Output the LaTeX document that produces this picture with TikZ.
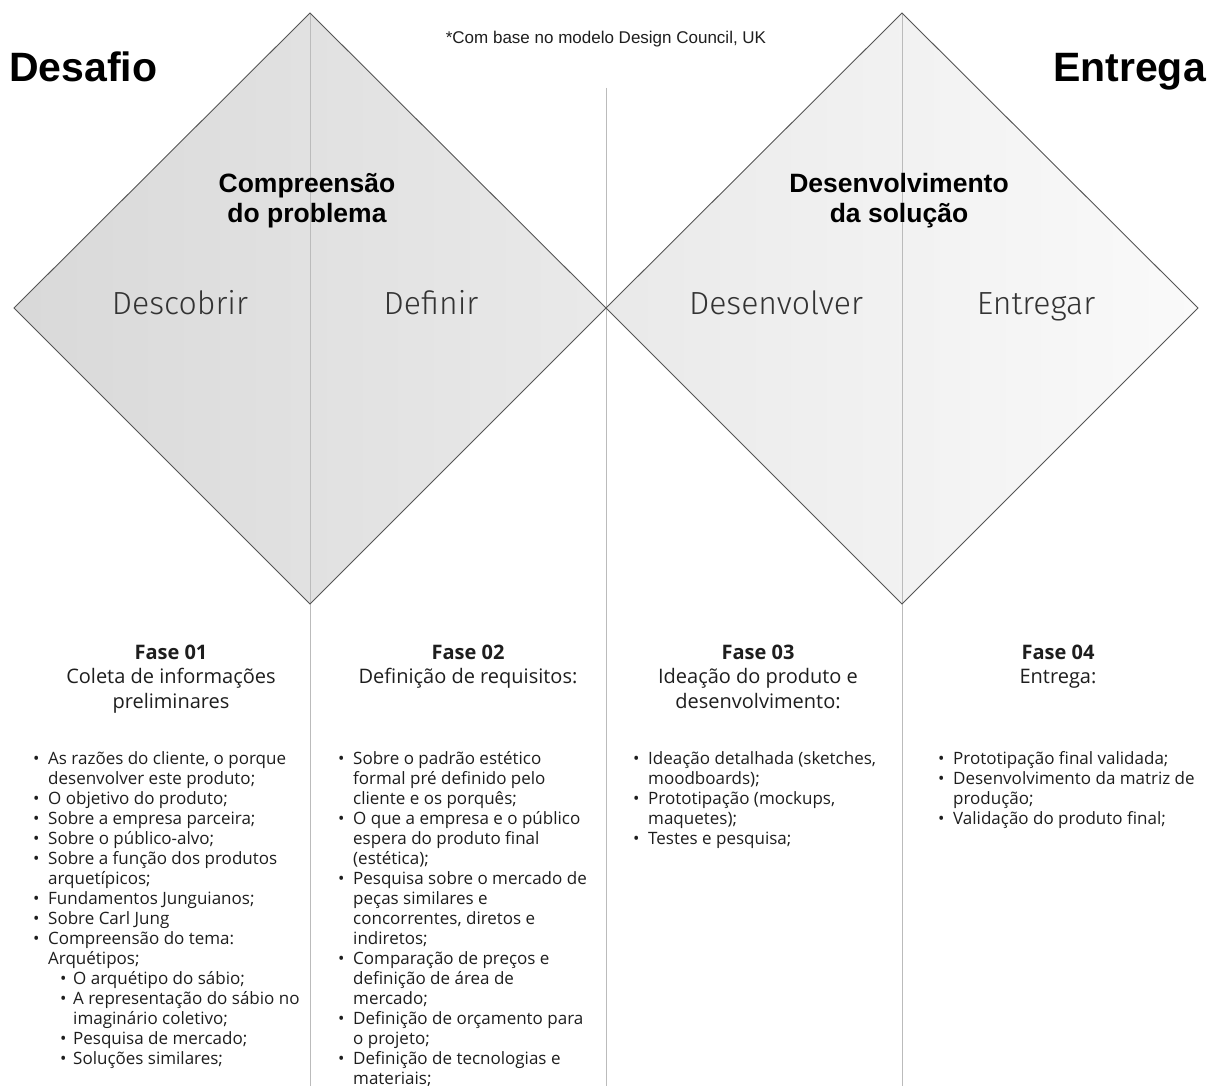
\documentclass[tikz,border=0pt]{standalone}
\usepackage{fontspec}
\setmainfont{Open Sans}
\newfontfamily\headfont{Liberation Sans}
\newfontfamily\lightfont{Fira Sans Light}
\newcommand\bitem[1]{\makebox[15pt][l]{•}#1}
\newcommand\bcont[1]{\hspace*{15pt}#1}
\newcommand\sbitem[1]{\hspace*{27pt}\makebox[13pt][l]{•}#1}
\newcommand\sbcont[1]{\hspace*{40pt}#1}
\definecolor{txt}{HTML}{1E1E1E}
\definecolor{edge}{HTML}{555555}
\definecolor{divider}{HTML}{BBBBBB}
\begin{document}
\begin{tikzpicture}[x=1pt,y=-1pt,
  bigtitle/.style={font=\headfont\bfseries\fontsize{41}{48}\selectfont, text=black, inner sep=0},
  phase/.style={font=\headfont\bfseries\fontsize{26.5}{30}\selectfont, align=center, text=black, inner sep=0},
  stage/.style={font=\lightfont\fontsize{32}{38}\selectfont, text=black!80, inner sep=0, anchor=base},
  fasehead/.style={anchor=base, inner sep=0, text=txt},
  listbox/.style={anchor=base west, inner sep=0, text=txt}]
\useasboundingbox (0,0) rectangle (1216,1086);
\fill[white] (0,0) rectangle (1216,1086);
% diamond corners
\coordinate (LT) at (310,13);
\coordinate (LL) at (14,308);
\coordinate (LB) at (310,604);
\coordinate (M)  at (606,308);
\coordinate (RT) at (902,13);
\coordinate (RB) at (902,604);
\coordinate (RR) at (1198,308);
\coordinate (V1t) at (310,13);   \coordinate (V1b) at (310,1086);
\coordinate (V2t) at (606,88);   \coordinate (V2b) at (606,1086);
\coordinate (V3t) at (902,13);   \coordinate (V3b) at (902,1086);
% shading
\begin{scope}
\clip (LT) -- (M) -- (LB) -- (LL) -- cycle (RT) -- (RR) -- (RB) -- (M) -- cycle;
\shade[left color=black!15, right color=black!2] (14,13) rectangle (1198,604);
\end{scope}
% dividers
\draw[divider, line width=1pt] (V1t) -- (V1b);
\draw[divider, line width=1pt] (V2t) -- (V2b);
\draw[divider, line width=1pt] (V3t) -- (V3b);
% outlines
\draw[edge, line width=0.9pt, line join=miter] (LT) -- (M) -- (LB) -- (LL) -- cycle;
\draw[edge, line width=0.9pt, line join=miter] (RT) -- (RR) -- (RB) -- (M) -- cycle;
% titles
\node[bigtitle, anchor=base west] (desafio) at (9,82) {Desafio};
\node[bigtitle, anchor=base east] (entrega) at (1206,82) {Entrega};
\node[font=\headfont\fontsize{17}{20}\selectfont, text=txt, inner sep=0, anchor=base] (nota) at (606,44) {*Com base no modelo Design Council, UK};
\node[phase] (comp) at (307,201) {Compreensão\\do problema};
\node[phase] (desenv) at (899,201) {Desenvolvimento\\da solução};
\node[stage] (descobrir) at (180,314) {Descobrir};
\node[stage] (definir) at (431,314) {Definir};
\node[stage] (desenvolver) at (776,314) {Desenvolver};
\node[stage] (entregar) at (1036,314) {Entregar};
% phase headings
\node[fasehead] (f1) at (171,659) {\fontsize{20}{24.5}\selectfont\begin{tabular}[t]{@{}c@{}}\bfseries Fase 01\\Coleta de informações\\preliminares\end{tabular}};
\node[fasehead] (f2) at (468,659) {\fontsize{20}{24.5}\selectfont\begin{tabular}[t]{@{}c@{}}\bfseries Fase 02\\Definição de requisitos:\end{tabular}};
\node[fasehead] (f3) at (758,659) {\fontsize{20}{24.5}\selectfont\begin{tabular}[t]{@{}c@{}}\bfseries Fase 03\\Ideação do produto e\\desenvolvimento:\end{tabular}};
\node[fasehead] (f4) at (1058,659) {\fontsize{20}{24.5}\selectfont\begin{tabular}[t]{@{}c@{}}\bfseries Fase 04\\Entrega:\end{tabular}};
% lists
\node[listbox] (l1) at (33,764) {\fontsize{17}{20}\selectfont\begin{tabular}[t]{@{}l@{}}
\bitem{As razões do cliente, o porque}\\
\bcont{desenvolver este produto;}\\
\bitem{O objetivo do produto;}\\
\bitem{Sobre a empresa parceira;}\\
\bitem{Sobre o público-alvo;}\\
\bitem{Sobre a função dos produtos}\\
\bcont{arquetípicos;}\\
\bitem{Fundamentos Junguianos;}\\
\bitem{Sobre Carl Jung}\\
\bitem{Compreensão do tema:}\\
\bcont{Arquétipos;}\\
\sbitem{O arquétipo do sábio;}\\
\sbitem{A representação do sábio no}\\
\sbcont{imaginário coletivo;}\\
\sbitem{Pesquisa de mercado;}\\
\sbitem{Soluções similares;}
\end{tabular}};
\node[listbox] (l2) at (338,764) {\fontsize{17}{20}\selectfont\begin{tabular}[t]{@{}l@{}}
\bitem{Sobre o padrão estético}\\
\bcont{formal pré definido pelo}\\
\bcont{cliente e os porquês;}\\
\bitem{O que a empresa e o público}\\
\bcont{espera do produto final}\\
\bcont{(estética);}\\
\bitem{Pesquisa sobre o mercado de}\\
\bcont{peças similares e}\\
\bcont{concorrentes, diretos e}\\
\bcont{indiretos;}\\
\bitem{Comparação de preços e}\\
\bcont{definição de área de}\\
\bcont{mercado;}\\
\bitem{Definição de orçamento para}\\
\bcont{o projeto;}\\
\bitem{Definição de tecnologias e}\\
\bcont{materiais;}
\end{tabular}};
\node[listbox] (l3) at (633,764) {\fontsize{17}{20}\selectfont\begin{tabular}[t]{@{}l@{}}
\bitem{Ideação detalhada (sketches,}\\
\bcont{moodboards);}\\
\bitem{Prototipação (mockups,}\\
\bcont{maquetes);}\\
\bitem{Testes e pesquisa;}
\end{tabular}};
\node[listbox] (l4) at (938,764) {\fontsize{17}{20}\selectfont\begin{tabular}[t]{@{}l@{}}
\bitem{Prototipação final validada;}\\
\bitem{Desenvolvimento da matriz de}\\
\bcont{produção;}\\
\bitem{Validação do produto final;}
\end{tabular}};
\end{tikzpicture}
\end{document}
